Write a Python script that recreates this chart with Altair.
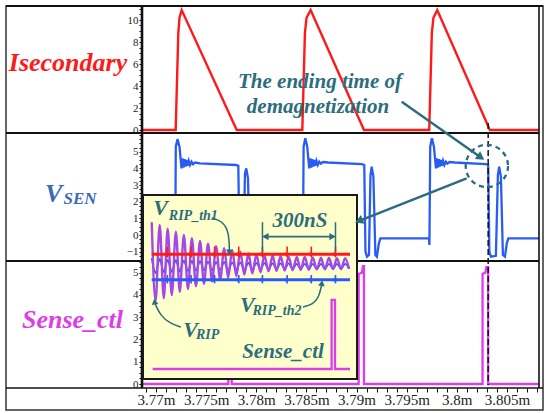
import altair as alt
import numpy as np
import pandas as pd

FONT = "Liberation Serif"
TEAL = "#2b6d7c"
RED = "#ff1a1a"
BLUE = "#2a5cf5"
MAGENTA = "#dc3cea"
VIOLET = "#a646ef"
VSEN_COLOR = "#3a6bb6"

# ---------------- main waveforms (time in ms) ----------------
isec_t = [3.76860, 3.77196, 3.77222, 3.77234, 3.77256, 3.77805,
          3.78459, 3.78485, 3.78501, 3.78542, 3.79074,
          3.79725, 3.79751, 3.79767, 3.79805, 3.80330, 3.80819]
isec_v = [0, 0, 8.8, 10.2, 10.9, 0,
          0, 8.8, 10.2, 10.9, 0,
          0, 8.8, 10.2, 10.9, 0, 0]

vsen_t1 = [3.76860, 3.77192, 3.77197, 3.77214, 3.77234, 3.77254, 3.77264, 3.77274,
           3.77284, 3.77294, 3.77304, 3.77314, 3.77326, 3.77339, 3.77354, 3.77369,
           3.77389, 3.77439, 3.77798, 3.77821, 3.77832, 3.77847, 3.77872, 3.77887,
           3.77900, 3.77917, 3.77937, 3.77952, 3.77972, 3.77987]
vsen_v1 = [-0.2, -0.2, 5.3, 5.75, 5.3, 4.0, 4.6, 4.05, 4.55, 4.1, 4.5, 4.15, 4.45,
           4.2, 4.4, 4.25, 4.35, 4.3, 4.2, 4.15, -1.0, -1.3, -1.2, 3.7, 4.0, 3.4,
           -1.2, -1.3, -0.5, -0.2]
vsen_t2 = [3.78466, 3.78472, 3.78489, 3.78508, 3.78528, 3.78538, 3.78548, 3.78558,
           3.78568, 3.78578, 3.78588, 3.78600, 3.78613, 3.78628, 3.78643, 3.78665,
           3.78715, 3.79054, 3.79077, 3.79089, 3.79104, 3.79124, 3.79139, 3.79151,
           3.79168, 3.79188, 3.79203, 3.79223, 3.79238]
vsen_v2 = [-0.2, 5.3, 5.8, 5.3, 4.0, 4.6, 4.05, 4.55, 4.1, 4.5, 4.15, 4.45, 4.2,
           4.4, 4.28, 4.38, 4.35, 4.25, 4.2, -1.0, -1.3, -1.2, 3.6, 4.1, 3.5, -1.2,
           -1.3, -0.5, -0.2]
vsen_t3 = [3.79722, 3.79727, 3.79735, 3.79752, 3.79772, 3.79792, 3.79802, 3.79812,
           3.79822, 3.79832, 3.79842, 3.79852, 3.79863, 3.79876, 3.79891, 3.79906,
           3.79926, 3.79981, 3.80290, 3.80313, 3.80325, 3.80340, 3.80390, 3.80410,
           3.80423, 3.80440, 3.80460, 3.80480, 3.80499, 3.80514, 3.80819]
vsen_v3 = [-0.2, -0.6, 5.3, 5.8, 5.3, 4.0, 4.6, 4.05, 4.55, 4.1, 4.5, 4.15, 4.45,
           4.2, 4.4, 4.28, 4.38, 4.35, 4.25, 4.2, -1.0, -1.3, -1.25, 3.6, 4.1, 3.5,
           -1.2, -1.3, -0.5, -0.2, -0.2]

sense_t = [3.76860, 3.77721, 3.77721, 3.77755, 3.77755, 3.79021, 3.79021, 3.79054,
           3.79064, 3.79074, 3.79074, 3.80257, 3.80257, 3.80285, 3.80295, 3.80313,
           3.80313, 3.80819]
sense_v = [0, 0, 5.0, 5.2, 0, 0, 4.95, 5.0, 5.3, 5.3, 0, 0, 4.95, 5.0, 5.25, 5.25, 0, 0]

demag_end_t = 3.80313          # dashed marker
circle_t, circle_v = 3.80300, 4.14

# ---------------- zoomed inset (time in ns, arbitrary level units) ----------------
ring_t = [0, 16, 33, 50, 66, 83, 100, 116, 133, 150, 166, 183, 200, 216, 233, 250,
          266, 283, 300, 316, 333, 350, 366, 383, 400, 416, 433, 450, 466, 483, 500,
          516, 533, 550, 566, 583, 600, 616, 633, 650, 666, 683, 700, 716, 733, 750,
          766, 783, 800, 816]
vrip_v = [112, -85, 105, -78, 96, -70, 88, -62, 80, -55, 72, -48, 65, -42, 58, -36,
          52, -31, 47, -27, 42, -23, 38, -19, 34, -16, 31, -13, 29, -11, 28, -10,
          27, -9, 26, -8, 25, -7, 25, -7, 24, -6, 23, -6, 23, -5, 22, -5, 22, -5]
vsen_in_v = [22, -15, 20, -13, 18, -12, 17, -11, 16, -10, 15, -9, 14, -8, 13, -8,
             12, -7, 12, -7, 11, -6, 11, -6, 10, -6, 10, -5, 10, -5, 9, -5, 9, -5,
             9, -5, 8, -5, 8, -5, 8, -5, 8, -4, 8, -4, 8, -4, 8, -4]
spike_t = [65, 163, 260, 360, 458, 560, 660, 760]
th1_level, th1_lo, th1_hi = 32, 24, 51
th2_level, th2_lo, th2_hi = -32, -41, -20
sense_in_t = [4, 744, 744, 758, 758, 820]
sense_in_v = [-255, -255, -82, -82, -255, -255]
span_t = [458, 760]            # 300 nS marker

# ---------------- scales ----------------
T_DOMAIN, T_RANGE = [3.7686, 3.8082], [136, 533]
I_DOMAIN, I_RANGE = [0, 820], [145.7, 344]
IV_DOMAIN, IV_RANGE = [-100, 100], [301, 221]
P1 = ([0, 11], [124, 3])
P2 = ([-1.5, 6], [254, 129])
P3 = ([0, 5.5], [378, 255.6])


def sc(dom, rng):
    return alt.Scale(domain=dom, range=rng, nice=False, zero=False)


def y_axis(vals, major, top):
    return alt.Axis(orient="left", offset=-136, values=vals,
                    labelExpr=(f"abs(datum.value % {major}) < 1e-6 && datum.value <= {top}"
                               " ? format(datum.value, 'd') : ''"),
                    domain=False, grid=False, tickSize=3, tickColor="#111", tickWidth=1,
                    labelFont=FONT, labelFontSize=11, labelColor="#222", labelPadding=1,
                    labelOverlap=False, labelFlush=False, title=None)


x_ticks = [round(v, 3) for v in np.arange(3769, 3809) / 1000]
x_axis = alt.Axis(orient="bottom", offset=-22, values=x_ticks,
                  labelExpr="round(datum.value*1000) % 5 == 0 ? format(datum.value, '.3~f') + 'm' : ''",
                  domain=False, grid=False, tickSize=4, tickColor="#111", tickWidth=1,
                  labelFont=FONT, labelFontSize=15, labelColor="#222", labelPadding=0,
                  labelOverlap=False, labelFlush=False, title=None)


def tX(field="t", axis=None):
    return alt.X(f"{field}:Q", scale=sc(T_DOMAIN, T_RANGE), axis=axis)


def iX(field="t"):
    return alt.X(f"{field}:Q", scale=sc(I_DOMAIN, I_RANGE), axis=None)


def iY(field="v"):
    return alt.Y(f"{field}:Q", scale=sc(IV_DOMAIN, IV_RANGE), axis=None)


def px(field):
    return alt.X(f"{field}:Q", scale=None, axis=None)


def py(field):
    return alt.Y(f"{field}:Q", scale=None, axis=None)


def series(t, v):
    return pd.DataFrame({"t": t, "v": v, "i": range(len(t))})


# ---------------- main panels ----------------
isec = alt.Chart(series(isec_t, isec_v)).mark_line(color=RED, strokeWidth=2.4).encode(
    x=tX(), y=alt.Y("v:Q", scale=sc(*P1), axis=y_axis(list(np.arange(0, 11.01, 0.5)), 2, 10)),
    order="i:Q")

vsen = alt.Chart(series(vsen_t1 + vsen_t2 + vsen_t3, vsen_v1 + vsen_v2 + vsen_v3)).mark_line(
    color=BLUE, strokeWidth=2.3).encode(
    x=tX(), y=alt.Y("v:Q", scale=sc(*P2), axis=y_axis(list(np.arange(-1.5, 6.01, 0.25)), 1, 5)),
    order="i:Q")

sense = alt.Chart(series(sense_t, sense_v)).mark_line(color=MAGENTA, strokeWidth=2.3).encode(
    x=tX(axis=x_axis),
    y=alt.Y("v:Q", scale=sc(*P3), axis=y_axis(list(np.arange(0, 5.51, 0.25)), 1, 5)),
    order="i:Q")

# dashed marker at end of demagnetization
demag = alt.Chart(pd.DataFrame({"t": [demag_end_t]})).mark_rule(
    color="#111", strokeWidth=1.5, strokeDash=[6, 3]).encode(
    x=tX(), y=alt.value(117), y2=alt.value(379))

circle = alt.Chart(pd.DataFrame({"t": [circle_t], "v": [circle_v]})).mark_point(
    shape="circle", filled=False, size=1790, color=TEAL, strokeWidth=2.3,
    strokeDash=[5, 4], opacity=1).encode(x=tX(), y=alt.Y("v:Q", scale=sc(*P2), axis=None))

# ---------------- frame ----------------
frame = pd.DataFrame({
    "x": [136, 533, 0, 0, 0, 0],
    "x2": [136, 533, 533, 533, 537, 537],
    "y": [0, 0, 127, 255, 382, 0],
    "y2": [382, 382, 127, 255, 382, 0],
    "w": [2.6, 1.6, 2.2, 2.2, 1.6, 2.2],
})
frame_rules = alt.Chart(frame).mark_rule(color="#111").encode(
    x=px("x"), x2="x2:Q", y=py("y"), y2="y2:Q",
    strokeWidth=alt.StrokeWidth("w:Q", scale=None))

# ---------------- inset ----------------
inset_box = alt.Chart(pd.DataFrame({"x": [137], "x2": [351], "y": [189], "y2": [373]})).mark_rect(
    fill="#ffffcc", stroke="#1a1a1a", strokeWidth=2).encode(
    x=px("x"), x2="x2:Q", y=py("y"), y2="y2:Q")

ring = pd.DataFrame({"t": ring_t, "vrip": vrip_v, "vsen": vsen_in_v})
vsen_in = alt.Chart(ring).mark_line(color=BLUE, strokeWidth=1.8, interpolate="monotone").encode(
    x=iX(), y=iY("vsen"))
vrip = alt.Chart(ring).mark_line(color=VIOLET, strokeWidth=2.4, interpolate="monotone").encode(
    x=iX(), y=iY("vrip"))

levels = pd.DataFrame({"t": [0, 820, 0, 820], "v": [th1_level, th1_level, th2_level, th2_level],
                       "k": ["th1", "th1", "th2", "th2"]})
th_lines = alt.Chart(levels).mark_line(strokeWidth=3).encode(
    x=iX(), y=iY(), detail="k:N",
    color=alt.Color("k:N", scale=alt.Scale(domain=["th1", "th2"], range=[RED, BLUE]), legend=None))

spikes = pd.DataFrame({
    "t": spike_t * 2,
    "lo": [th1_lo] * len(spike_t) + [th2_lo] * len(spike_t),
    "hi": [th1_hi] * len(spike_t) + [th2_hi] * len(spike_t),
    "lvl": [th1_level] * len(spike_t) + [th2_level] * len(spike_t),
    "k": ["th1"] * len(spike_t) + ["th2"] * len(spike_t),
})
spike_color = alt.Color("k:N", scale=alt.Scale(domain=["th1", "th2"], range=[RED, BLUE]), legend=None)
spike_rules = alt.Chart(spikes).mark_rule(strokeWidth=1.6).encode(
    x=iX(), y=iY("lo"), y2="hi:Q", color=spike_color)
spike_bursts = alt.Chart(spikes).mark_point(shape="triangle-right", filled=True, size=18,
                                            opacity=1).encode(
    x=iX(), y=iY("lvl"), color=spike_color)

sense_in = alt.Chart(series(sense_in_t, sense_in_v)).mark_line(
    color=MAGENTA, strokeWidth=2.3).encode(x=iX(), y=iY(), order="i:Q")

span_marks = alt.Chart(pd.DataFrame({"t": span_t, "lo": [37, 37], "hi": [112, 112]})).mark_rule(
    color=TEAL, strokeWidth=1.5).encode(x=iX(), y=iY("lo"), y2="hi:Q")
span_arrow = alt.Chart(pd.DataFrame({"t": [span_t[0] + 6], "t2": [span_t[1] - 6], "v": [76]})).mark_rule(
    color=TEAL, strokeWidth=1.8).encode(x=iX(), x2="t2:Q", y=iY())
span_heads = alt.Chart(pd.DataFrame({"t": [span_t[0] + 12, span_t[1] - 12], "v": [76, 76],
                                     "s": ["triangle-left", "triangle-right"]})).mark_point(
    filled=True, size=55, color=TEAL, opacity=1).encode(
    x=iX(), y=iY(), shape=alt.Shape("s:N", scale=None))

# ---------------- annotations ----------------
arrows = pd.DataFrame({"x": [395.7, 460.7], "y": [95.7, 172.3],
                       "x2": [473.5, 354.5], "y2": [150.5, 214.4]})
arrow_lines = alt.Chart(arrows).mark_rule(color=TEAL, strokeWidth=2.4).encode(
    x=px("x"), x2="x2:Q", y=py("y"), y2="y2:Q")

curves = pd.DataFrame({
    "x": [205.7, 216, 222, 223.3, 223.3, 297, 307, 313, 315.6, 175, 164, 154, 149.3],
    "y": [212, 215, 224, 236, 244, 301, 298.5, 291, 279, 321, 317.5, 309, 298],
    "k": ["a"] * 5 + ["b"] * 4 + ["c"] * 4,
    "i": list(range(13)),
})
curve_lines = alt.Chart(curves).mark_line(color=TEAL, strokeWidth=1.5, interpolate="basis").encode(
    x=px("x"), y=py("y"), detail="k:N", order="i:Q")

heads = pd.DataFrame({"x": [473.7, 354.2, 223.3, 315.7, 148.8],
                      "y": [150.7, 214.5, 245.5, 278.0, 296.5],
                      "a": [125, 248, 180, 8, 352],
                      "s": [90, 90, 45, 45, 45]})
arrow_heads = alt.Chart(heads).mark_point(shape="triangle", filled=True, color=TEAL, opacity=1).encode(
    x=px("x"), y=py("y"), angle=alt.Angle("a:Q", scale=None), size=alt.Size("s:Q", scale=None))

labels_left = pd.DataFrame({
    "text": ["V", "SEN", "V", "RIP_th1", "V", "RIP_th2", "V", "RIP"],
    "x": [39, 57.5, 147.3, 162.8, 234, 246.5, 177.3, 190],
    "y": [195.7, 198, 209, 214, 305.7, 308.5, 330.7, 332.5],
    "fs": [26, 17, 22, 14, 22, 14, 22, 14],
    "c": [VSEN_COLOR, VSEN_COLOR] + [TEAL] * 6,
})
labels_center = pd.DataFrame({
    "text": ["Isecondary", "Sense_ctl", "The ending time of", "demagnetization", "300nS", "Sense_ctl"],
    "x": [62, 66.5, 314, 312, 294, 277],
    "y": [65, 322, 82, 107, 221, 352],
    "fs": [26, 26, 21, 21, 21, 21],
    "c": [RED, MAGENTA, TEAL, TEAL, TEAL, TEAL],
})


def text_layer(df, align):
    return alt.Chart(df).mark_text(font=FONT, fontStyle="italic", fontWeight="bold",
                                   align=align, baseline="alphabetic").encode(
        x=px("x"), y=py("y"), text="text:N",
        size=alt.Size("fs:Q", scale=None), color=alt.Color("c:N", scale=None))


chart = alt.layer(
    isec, vsen, sense,
    frame_rules, demag, circle,
    inset_box, vsen_in, vrip, th_lines, spike_rules, spike_bursts, sense_in,
    span_marks, span_arrow, span_heads,
    arrow_lines, curve_lines, arrow_heads,
    text_layer(labels_left, "left"), text_layer(labels_center, "center"),
).resolve_scale(
    x="independent", y="independent", color="independent", shape="independent",
    size="independent", angle="independent", strokeWidth="independent"
).properties(
    width=537, height=404,
    autosize=alt.AutoSizeParams(type="none"),
    padding={"left": 6, "top": 6, "right": 2, "bottom": 3},
).configure_view(stroke="#333", strokeWidth=1.5)

chart.save("out.html", embed_options={"renderer": "svg", "actions": False})
